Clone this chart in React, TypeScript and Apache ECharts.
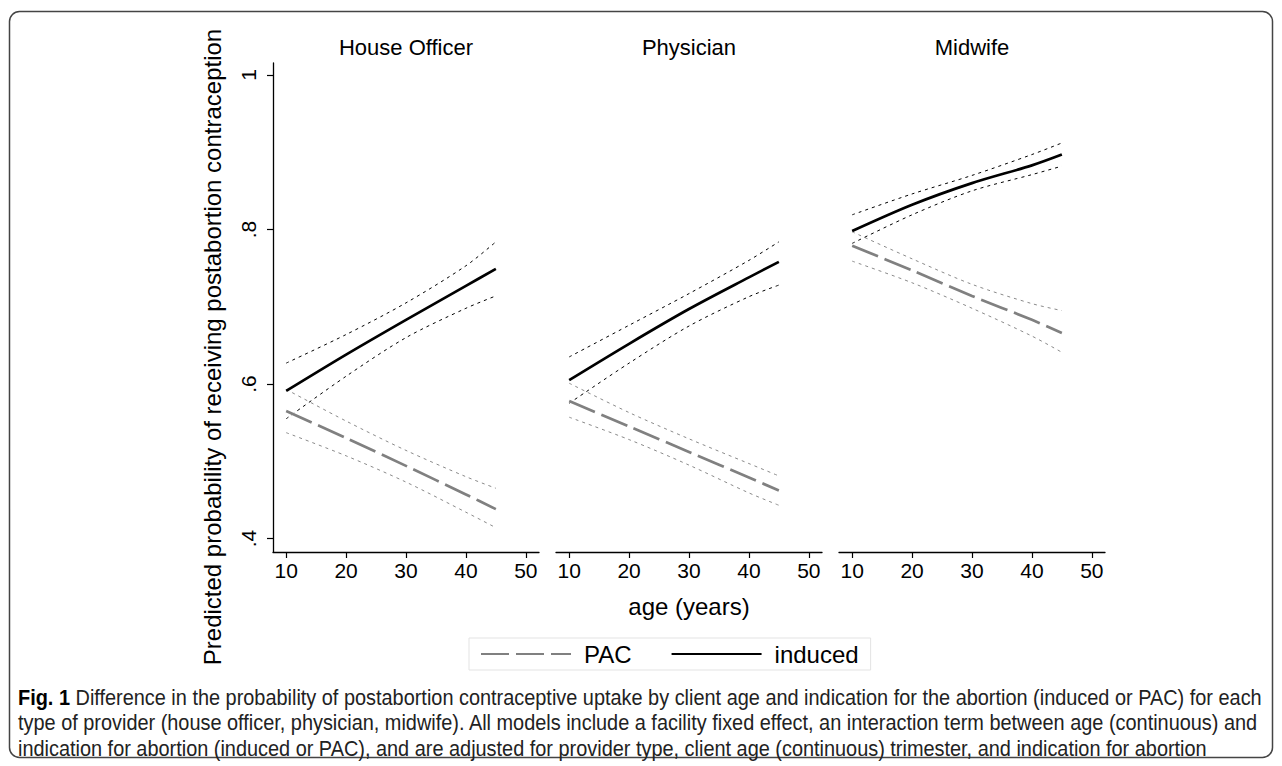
import React, { useEffect, useRef } from "react";
import * as echarts from "echarts";

// ---- data ----
const panelTitles = ["House Officer", "Physician", "Midwife"];
const ages = [10, 20, 30, 40, 45];
const xTicks = [10, 20, 30, 40, 50];
const yTicks = [0.4, 0.6, 0.8, 1];
const legendNames = ["PAC", "induced"];

// House Officer
const hoInduced = [0.591, 0.638, 0.683, 0.727, 0.749];
const hoInducedHi = [0.627, 0.664, 0.705, 0.753, 0.784];
const hoInducedLo = [0.555, 0.61, 0.66, 0.698, 0.714];
const hoPac = [0.565, 0.53, 0.494, 0.457, 0.438];
const hoPacHi = [0.593, 0.552, 0.514, 0.48, 0.465];
const hoPacLo = [0.537, 0.507, 0.473, 0.434, 0.414];

// Physician
const phInduced = [0.605, 0.652, 0.697, 0.738, 0.758];
const phInducedHi = [0.635, 0.676, 0.717, 0.76, 0.784];
const phInducedLo = [0.575, 0.627, 0.675, 0.713, 0.728];
const phPac = [0.578, 0.545, 0.512, 0.479, 0.462];
const phPacHi = [0.601, 0.563, 0.529, 0.497, 0.481];
const phPacLo = [0.557, 0.528, 0.495, 0.459, 0.443];

// Midwife
const mwInduced = [0.798, 0.832, 0.860, 0.883, 0.897];
const mwInducedHi = [0.819, 0.846, 0.870, 0.897, 0.912];
const mwInducedLo = [0.782, 0.819, 0.850, 0.871, 0.882];
const mwPac = [0.779, 0.747, 0.714, 0.683, 0.666];
const mwPacHi = [0.797, 0.762, 0.729, 0.704, 0.695];
const mwPacLo = [0.759, 0.731, 0.698, 0.662, 0.641];

const panelData = [
  { induced: hoInduced, hi: hoInducedHi, lo: hoInducedLo, pac: hoPac, pacHi: hoPacHi, pacLo: hoPacLo },
  { induced: phInduced, hi: phInducedHi, lo: phInducedLo, pac: phPac, pacHi: phPacHi, pacLo: phPacLo },
  { induced: mwInduced, hi: mwInducedHi, lo: mwInducedLo, pac: mwPac, pacHi: mwPacHi, pacLo: mwPacLo },
];

const captionBold = "Fig. 1";
const captionLines = [
  " Difference in the probability of postabortion contraceptive uptake by client age and indication for the abortion (induced or PAC) for each",
  "type of provider (house officer, physician, midwife). All models include a facility fixed effect, an interaction term between age (continuous) and",
  "indication for abortion (induced or PAC), and are adjusted for provider type, client age (continuous) trimester, and indication for abortion",
];
const yTitle = "Predicted probability of receiving postabortion contraception";
const xTitle = "age (years)";

const FONT = "'Liberation Sans', Arial, Helvetica, sans-serif";
const CAPFONT = "'Liberation Sans', Arial, sans-serif";

const pairs = (ys: number[]) => ages.map((a, i) => [a, ys[i]]);

export default function App() {
  const ref = useRef<HTMLDivElement>(null);
  useEffect(() => {
    document.body.style.margin = "0";
    const chart = echarts.init(ref.current!, null, { renderer: "svg" });
    const gridLefts = [273, 556, 839];
    const gridWidth = 266;
    const grids = gridLefts.map((l) => ({ left: l, width: gridWidth, top: 63, height: 489 }));
    const xAxes = gridLefts.map((_, i) => ({
      type: "value",
      gridIndex: i,
      min: 7.8,
      max: 52.2,
      axisLine: { show: true, onZero: false, lineStyle: { color: "#000", width: 1.3 } },
      axisTick: { show: true, length: 6, customValues: xTicks, lineStyle: { color: "#000", width: 1.2 } },
      axisLabel: { customValues: xTicks, fontSize: 21, color: "#000", margin: 8, fontFamily: FONT },
      splitLine: { show: false },
    }));
    const yAxes = gridLefts.map((_, i) => ({
      type: "value",
      gridIndex: i,
      min: 0.3825,
      max: 1.0155,
      show: i === 0,
      axisLine: { show: true, onZero: false, lineStyle: { color: "#000", width: 1.3 } },
      axisTick: { show: true, length: 6, customValues: yTicks, lineStyle: { color: "#000", width: 1.2 } },
      axisLabel: {
        customValues: yTicks,
        rotate: 90,
        fontSize: 21,
        color: "#000",
        margin: 14,
        fontFamily: FONT,
        formatter: (v: number) => (Math.abs(v - 1) < 1e-9 ? "1" : "." + Math.round(v * 10)),
      },
      splitLine: { show: false },
    }));
    const series: any[] = [];
    panelData.forEach((p, i) => {
      const base = { type: "line", xAxisIndex: i, yAxisIndex: i, symbol: "none", smooth: 0.3, silent: true };
      const ci = (name: string, ys: number[], color: string) => ({
        ...base,
        name,
        data: pairs(ys),
        lineStyle: { color, width: 1, type: [3, 4] },
        itemStyle: { color },
      });
      series.push(ci("PAC CI", p.pacHi, "#8a8a8a"));
      series.push(ci("PAC CI", p.pacLo, "#8a8a8a"));
      series.push(ci("induced CI", p.hi, "#000"));
      series.push(ci("induced CI", p.lo, "#000"));
      series.push({
        ...base,
        name: legendNames[0],
        data: pairs(p.pac),
        lineStyle: { color: "#808080", width: 2.7, type: [28, 7] },
        itemStyle: { color: "#808080" },
      });
      series.push({
        ...base,
        name: legendNames[1],
        data: pairs(p.induced),
        lineStyle: { color: "#000", width: 2.7, type: "solid" },
        itemStyle: { color: "#000" },
      });
    });

    const graphic: any[] = [
      {
        type: "rect",
        shape: { x: 9.5, y: 11.5, width: 1263, height: 746, r: 10 },
        style: { fill: "none", stroke: "#444", lineWidth: 1.5 },
        silent: true,
      },
      ...panelTitles.map((t, i) => ({
        type: "text",
        x: gridLefts[i] + gridWidth / 2,
        y: 47,
        style: { text: t, textAlign: "center", textVerticalAlign: "middle", fontSize: 22, fontFamily: FONT, fill: "#000" },
      })),
      {
        type: "text",
        x: (gridLefts[0] + gridLefts[2] + gridWidth) / 2,
        y: 606,
        style: { text: xTitle, textAlign: "center", textVerticalAlign: "middle", fontSize: 24, fontFamily: FONT, fill: "#000" },
      },
      {
        type: "text",
        x: 212,
        y: 347,
        rotation: Math.PI / 2,
        style: { text: yTitle, textAlign: "center", textVerticalAlign: "middle", fontSize: 24, fontFamily: FONT, fill: "#000" },
      },
      ...captionLines.map((line, i) => ({
        type: "text",
        x: 18,
        y: 697 + i * 25.5,
        scaleX: 0.905,
        style: {
          text: i === 0 ? "{b|" + captionBold + "}" + line : line,
          rich: { b: { fontWeight: "bold", fontSize: 22, fontFamily: CAPFONT, fill: "#000" } },
          textVerticalAlign: "middle",
          fontSize: 22,
          fontFamily: CAPFONT,
          fill: "#222",
        },
      })),
    ];

    chart.setOption({
      animation: false,
      backgroundColor: "#fff",
      grid: grids,
      xAxis: xAxes,
      yAxis: yAxes,
      legend: {
        data: legendNames,
        left: 469,
        top: 638,
        itemWidth: 90,
        itemHeight: 14,
        itemGap: 39,
        padding: [4, 12, 4, 11],
        borderColor: "#e3e3e3",
        borderWidth: 1,
        selectedMode: false,
        itemStyle: { opacity: 0 },
        textStyle: { fontSize: 24, color: "#000", fontFamily: FONT, padding: [0, 0, 0, 8] },
      },
      series,
      graphic,
    });
    return () => chart.dispose();
  }, []);
  return <div ref={ref} style={{ width: 1282, height: 766 }} />;
}
